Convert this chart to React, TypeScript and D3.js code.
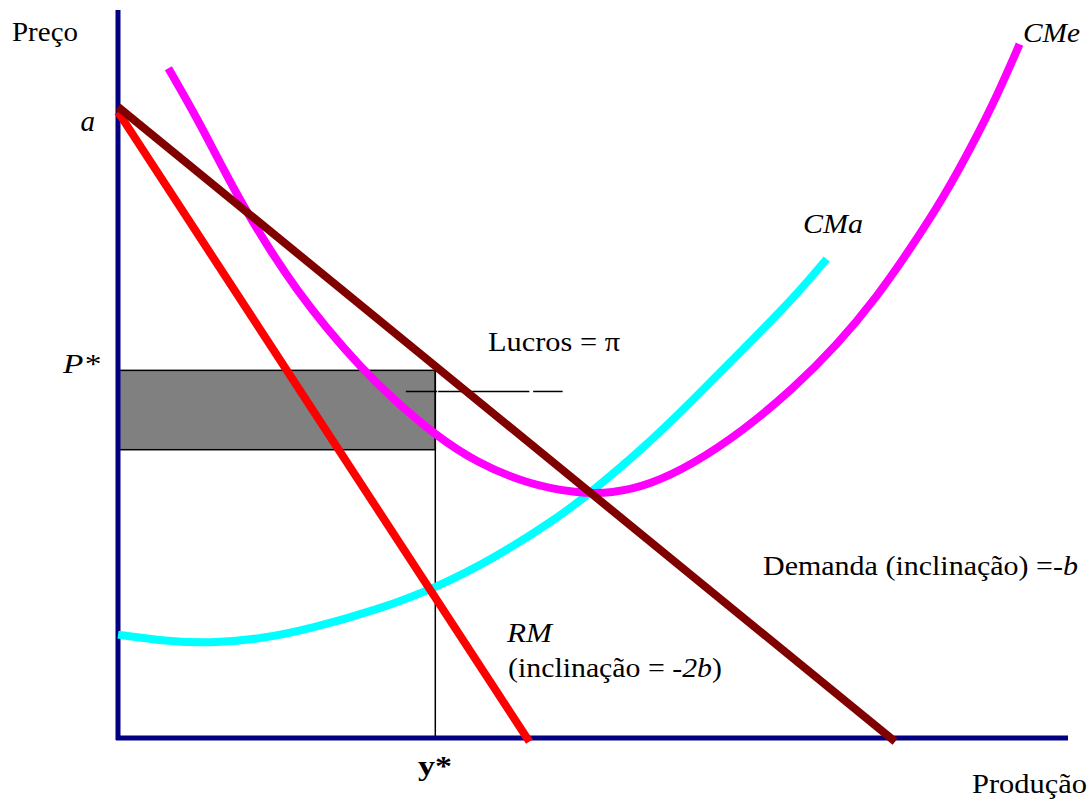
import React from "react";
import * as d3 from "d3";

// Monopoly equilibrium: demand, marginal revenue, average and marginal cost.
// Quantities (q) and prices (p) are in a 0–100 scale on each axis.

const A_INTERCEPT = 86.7; // "a", price intercept of demand
const Q_STAR = 33.4; // y*
const P_STAR = 50.5; // P*
const AC_AT_QSTAR = 39.6; // average cost at y*

type Pt = { q: number; p: number };

const demand: Pt[] = [
  { q: 0, p: 86.7 },
  { q: 81.8, p: -0.5 },
];

const marginalRevenue: Pt[] = [
  { q: 0, p: 86.0 },
  { q: 43.3, p: -0.5 },
];

const averageCost: Pt[] = [
  { q: 5.3, p: 92.0 },
  { q: 8.3, p: 85.2 },
  { q: 10.9, p: 78.6 },
  { q: 13.4, p: 72.6 },
  { q: 16.0, p: 67.0 },
  { q: 18.8, p: 61.6 },
  { q: 22.0, p: 56.2 },
  { q: 25.5, p: 51.0 },
  { q: 28.9, p: 46.6 },
  { q: 33.4, p: 41.6 },
  { q: 37.8, p: 37.8 },
  { q: 43.1, p: 34.9 },
  { q: 48.3, p: 33.6 },
  { q: 52.0, p: 33.6 },
  { q: 56.0, p: 34.8 },
  { q: 60.5, p: 37.6 },
  { q: 65.8, p: 42.2 },
  { q: 71.1, p: 48.0 },
  { q: 75.7, p: 54.0 },
  { q: 79.9, p: 60.6 },
  { q: 83.4, p: 67.2 },
  { q: 86.8, p: 74.0 },
  { q: 90.0, p: 81.6 },
  { q: 92.6, p: 88.4 },
  { q: 94.9, p: 95.3 },
];

const marginalCost: Pt[] = [
  { q: 0, p: 14.2 },
  { q: 5.0, p: 13.3 },
  { q: 9.7, p: 13.0 },
  { q: 15.0, p: 13.6 },
  { q: 20.2, p: 15.0 },
  { q: 27.3, p: 17.6 },
  { q: 33.4, p: 20.6 },
  { q: 39.5, p: 24.6 },
  { q: 46.5, p: 30.4 },
  { q: 50.0, p: 34.0 },
  { q: 55.3, p: 39.8 },
  { q: 60.5, p: 46.4 },
  { q: 65.8, p: 53.4 },
  { q: 71.1, p: 60.4 },
  { q: 74.6, p: 65.8 },
];

// Leader line from the profit label into the shaded area
const profitLeader: [number, number][] = [
  [30.3, 33.6],
  [33.7, 43.3],
  [43.7, 46.8],
];
const LEADER_P = 47.6;

const W = 1091;
const H = 800;
const FONT = "'Liberation Serif', 'Times New Roman', serif";

export default function App() {
  const x = d3.scaleLinear().domain([0, 100]).range([118, 1068]);
  const y = d3.scaleLinear().domain([0, 100]).range([738, 10]);

  const straight = d3
    .line<Pt>()
    .x((d) => x(d.q))
    .y((d) => y(d.p));
  const smooth = d3
    .line<Pt>()
    .x((d) => x(d.q))
    .y((d) => y(d.p))
    .curve(d3.curveBasis);

  const textStyle: React.CSSProperties = { fontFamily: FONT, fontSize: 27, fill: "#000" };
  const fit = { lengthAdjust: "spacingAndGlyphs" as const };

  return (
    <svg
      width={W}
      height={H}
      style={{ position: "absolute", left: 0, top: 0, background: "#fff" }}
    >
      {/* profit rectangle */}
      <rect
        x={x(0)}
        y={y(P_STAR)}
        width={x(Q_STAR) - x(0)}
        height={y(AC_AT_QSTAR) - y(P_STAR)}
        fill="#808080"
        stroke="#000"
        strokeWidth={1.5}
      />
      {/* y* guide */}
      <line
        x1={x(Q_STAR)}
        x2={x(Q_STAR)}
        y1={y(P_STAR)}
        y2={y(0)}
        stroke="#000"
        strokeWidth={1.5}
      />
      {/* axes */}
      <line x1={x(0)} x2={x(0)} y1={y(100)} y2={y(0) + 2} stroke="#000080" strokeWidth={5} />
      <line x1={x(0) - 2} x2={x(100)} y1={y(0)} y2={y(0)} stroke="#000080" strokeWidth={5} />

      {profitLeader.map(([a, b], i) => (
        <line
          key={i}
          x1={x(a)}
          x2={x(b)}
          y1={y(LEADER_P)}
          y2={y(LEADER_P)}
          stroke="#000"
          strokeWidth={1.5}
        />
      ))}

      <path d={smooth(marginalCost) ?? ""} fill="none" stroke="#00FFFF" strokeWidth={8} />
      <path d={smooth(averageCost) ?? ""} fill="none" stroke="#FF00FF" strokeWidth={8} />
      <path d={straight(marginalRevenue) ?? ""} fill="none" stroke="#FF0000" strokeWidth={8} />
      <path d={straight(demand) ?? ""} fill="none" stroke="#800000" strokeWidth={8} />

      {/* labels */}
      <text x={12} y={41} style={textStyle} textLength={66} {...fit}>Preço</text>
      <text x={x(0) - 23} y={y(A_INTERCEPT) + 24} textAnchor="end" style={{ ...textStyle, fontSize: 29, fontStyle: "italic" }}>a</text>
      <text x={63} y={y(P_STAR) + 3} style={{ ...textStyle, fontSize: 28, fontStyle: "italic" }} textLength={37} {...fit}>P*</text>
      <text x={418} y={775} style={{ ...textStyle, fontWeight: "bold" }} textLength={34} {...fit}>y*</text>
      <text x={972} y={793} style={textStyle} textLength={115} {...fit}>Produção</text>
      <text x={488} y={351} style={textStyle} textLength={132} {...fit}>Lucros = π</text>
      <text x={803} y={233} style={{ ...textStyle, fontStyle: "italic" }} textLength={60} {...fit}>CMa</text>
      <text x={1023} y={42} style={{ ...textStyle, fontStyle: "italic" }} textLength={57} {...fit}>CMe</text>
      <text x={763} y={575} style={textStyle} textLength={315} {...fit}>
        Demanda (inclinação) =-<tspan fontStyle="italic">b</tspan>
      </text>
      <text x={507} y={642} style={{ ...textStyle, fontStyle: "italic" }} textLength={45} {...fit}>RM</text>
      <text x={508} y={677} style={textStyle} textLength={214} {...fit}>
        (inclinação = <tspan fontStyle="italic">-2b</tspan>)
      </text>
    </svg>
  );
}
